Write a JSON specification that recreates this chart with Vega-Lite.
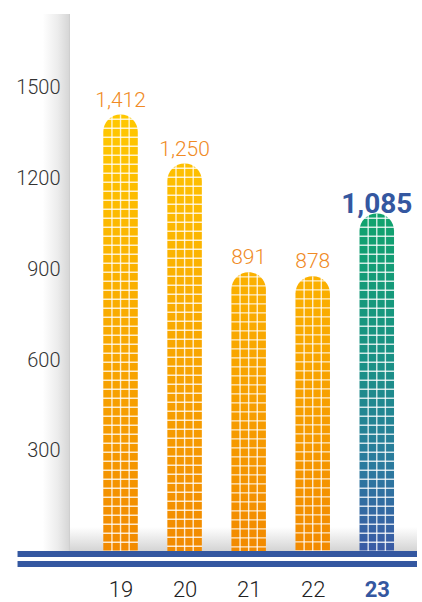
{
  "$schema": "https://vega.github.io/schema/vega-lite/v6.json",
  "autosize": "none",
  "width": 357,
  "height": 537,
  "padding": {"left": 65, "top": 14, "right": 0, "bottom": 51},
  "background": "white",
  "config": {"view": {"stroke": null}, "font": "Roboto"},
  "data": {"values": [
    {"year": 19, "value": 1412},
    {"year": 20, "value": 1250},
    {"year": 21, "value": 891},
    {"year": 22, "value": 878},
    {"year": 23, "value": 1085}
  ]},
  "layer": [
    {
      "data": {"values": [{}]},
      "mark": {"type": "rect", "fill": {"gradient": "linear", "x1": 0, "x2": 1, "y1": 0, "y2": 0, "stops": [{"offset": 0, "color": "#ffffff"}, {"offset": 0.55, "color": "#ececec"}, {"offset": 0.97, "color": "#d6d6d6"}, {"offset": 1, "color": "#c4c4c4"}]}},
      "encoding": {
        "x": {"datum": 17.786, "type": "quantitative"},
        "x2": {"datum": 18.211},
        "y": {"datum": -30.6, "type": "quantitative"},
        "y2": {"datum": 1744.6}
      }
    },
    {
      "data": {"values": [{}]},
      "mark": {"type": "rect", "fill": {"gradient": "linear", "x1": 0, "x2": 0, "y1": 0, "y2": 1, "stops": [{"offset": 0, "color": "#ffffff"}, {"offset": 1, "color": "#d4d4d4"}]}},
      "encoding": {
        "x": {"datum": 18.211, "type": "quantitative"},
        "x2": {"datum": 23.628},
        "y": {"datum": -30.6, "type": "quantitative"},
        "y2": {"datum": 48.8}
      }
    },
    {
      "mark": {"type": "bar", "width": 34.5, "cornerRadiusTopLeft": 17.25, "cornerRadiusTopRight": 17.25},
      "encoding": {
        "x": {
          "field": "year", "type": "quantitative",
          "scale": {"domain": [18.211, 23.628], "nice": false, "zero": false},
          "axis": {
            "values": [19, 20, 21, 22, 23], "format": "d", "title": null,
            "grid": false, "domain": false, "ticks": false,
            "labelFontSize": 22, "labelPadding": 28, "labelFont": "Roboto",
            "labelColor": {"condition": {"test": "datum.value == 23", "value": "#3457A0"}, "value": "#222222"},
            "labelFontWeight": {"condition": {"test": "datum.value == 23", "value": "bold"}, "value": 300}
          }
        },
        "y": {
          "field": "value", "type": "quantitative",
          "scale": {"domain": [-30.6, 1744.6], "nice": false, "zero": false},
          "axis": {
            "values": [300, 600, 900, 1200, 1500], "format": "d", "title": null,
            "grid": false, "domain": false, "ticks": false, "zindex": 1,
            "labelFontSize": 20, "labelPadding": 5, "labelColor": "#333333", "labelFont": "Roboto", "labelFontWeight": 300
          }
        },
        "y2": {"datum": -30.6},
        "color": {
          "condition": [
            {"test": "datum.year == 19", "value": {"gradient": "linear", "x1": 0, "x2": 0, "y1": 0, "y2": 1, "stops": [{"offset": 0, "color": "#FFC800"}, {"offset": 1, "color": "#F28A00"}]}},
            {"test": "datum.year == 20", "value": {"gradient": "linear", "x1": 0, "x2": 0, "y1": 0, "y2": 1, "stops": [{"offset": 0, "color": "#FEC000"}, {"offset": 1, "color": "#F28A00"}]}},
            {"test": "datum.year == 21 || datum.year == 22", "value": {"gradient": "linear", "x1": 0, "x2": 0, "y1": 0, "y2": 1, "stops": [{"offset": 0, "color": "#FBB100"}, {"offset": 1, "color": "#F28A00"}]}}
          ],
          "value": {"gradient": "linear", "x1": 0, "x2": 0, "y1": 0, "y2": 1, "stops": [{"offset": 0, "color": "#10A36D"}, {"offset": 0.45, "color": "#1A9086"}, {"offset": 0.75, "color": "#2B7A9E"}, {"offset": 1, "color": "#3A5AA5"}]}
        }
      }
    },
    {
      "mark": {"type": "rule", "stroke": "white", "strokeWidth": 35, "strokeOpacity": 0.8, "strokeDash": [1.4, 7.6], "strokeDashOffset": 5},
      "encoding": {
        "x": {"field": "year", "type": "quantitative"},
        "y": {"field": "value", "type": "quantitative"},
        "y2": {"datum": -30.6}
      }
    },
    {
      "mark": {"type": "rule", "stroke": "white", "strokeWidth": 1.4, "strokeOpacity": 0.8, "xOffset": -8.6},
      "encoding": {
        "x": {"field": "year", "type": "quantitative"},
        "y": {"field": "value", "type": "quantitative"},
        "y2": {"datum": -30.6}
      }
    },
    {
      "mark": {"type": "rule", "stroke": "white", "strokeWidth": 1.4, "strokeOpacity": 0.8},
      "encoding": {
        "x": {"field": "year", "type": "quantitative"},
        "y": {"field": "value", "type": "quantitative"},
        "y2": {"datum": -30.6}
      }
    },
    {
      "mark": {"type": "rule", "stroke": "white", "strokeWidth": 1.4, "strokeOpacity": 0.8, "xOffset": 8.6},
      "encoding": {
        "x": {"field": "year", "type": "quantitative"},
        "y": {"field": "value", "type": "quantitative"},
        "y2": {"datum": -30.6}
      }
    },
    {
      "data": {"values": [{}]},
      "mark": {"type": "rule", "stroke": "#3457A0", "strokeWidth": 6},
      "encoding": {
        "x": {"datum": 17.392, "type": "quantitative"},
        "x2": {"datum": 23.628},
        "y": {"datum": -40.5, "type": "quantitative"}
      }
    },
    {
      "data": {"values": [{}]},
      "mark": {"type": "rule", "stroke": "#3457A0", "strokeWidth": 6},
      "encoding": {
        "x": {"datum": 17.392, "type": "quantitative"},
        "x2": {"datum": 23.628},
        "y": {"datum": -73.5, "type": "quantitative"}
      }
    },
    {
      "transform": [{"filter": "datum.year != 23"}],
      "mark": {"type": "text", "fontSize": 21, "fontWeight": 300, "color": "#F08A24", "dy": -14, "font": "Roboto"},
      "encoding": {
        "x": {"field": "year", "type": "quantitative"},
        "y": {"field": "value", "type": "quantitative"},
        "text": {"field": "value", "type": "quantitative", "format": ","}
      }
    },
    {
      "transform": [{"filter": "datum.year == 23"}],
      "mark": {"type": "text", "fontSize": 28, "fontWeight": "bold", "color": "#3457A0", "dy": -9, "font": "Roboto"},
      "encoding": {
        "x": {"field": "year", "type": "quantitative"},
        "y": {"field": "value", "type": "quantitative"},
        "text": {"field": "value", "type": "quantitative", "format": ","}
      }
    }
  ]
}
